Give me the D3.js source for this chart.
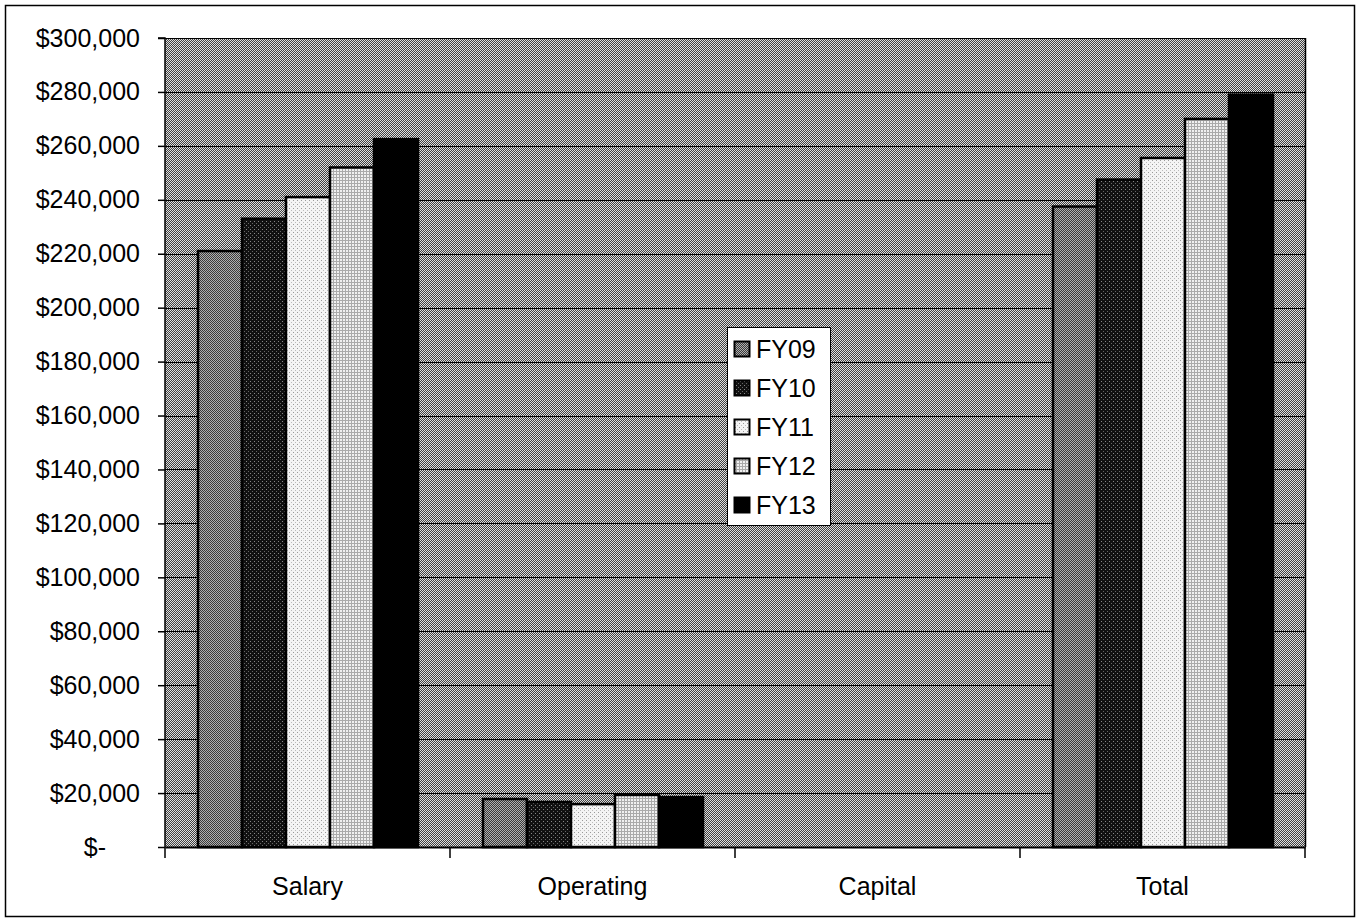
<!DOCTYPE html>
<html><head><meta charset="utf-8">
<script src="https://cdn.jsdelivr.net/npm/d3@7"></script>
<style>body{margin:0;background:#fff;} svg{display:block;} text{font-family:Arial,"Liberation Sans",sans-serif;}</style>
</head><body>
<svg id="chart" width="1359" height="922"></svg>
<script>
const categories = ["Salary", "Operating", "Capital", "Total"];
const seriesNames = ["FY09", "FY10", "FY11", "FY12", "FY13"];
const FY09 = [221000, 17800, 0, 237500];
const FY10 = [233000, 16700, 0, 247500];
const FY11 = [241000, 15900, 0, 255500];
const FY12 = [252000, 19300, 0, 270000];
const FY13 = [262500, 18500, 0, 279000];
const seriesValues = [FY09, FY10, FY11, FY12, FY13];
const yTicks = d3.range(0, 300001, 20000);

(function(){
const svg = d3.select("#chart");
const defs = svg.append("defs");

function checker(id, a, b, size) {
  const p = defs.append("pattern").attr("id", id).attr("patternUnits", "userSpaceOnUse")
    .attr("width", size * 2).attr("height", size * 2);
  p.append("rect").attr("width", size * 2).attr("height", size * 2).attr("fill", a);
  p.append("rect").attr("width", size).attr("height", size).attr("fill", b);
  p.append("rect").attr("x", size).attr("y", size).attr("width", size).attr("height", size).attr("fill", b);
}
checker("bg", "#404040", "#dedede", 1);
checker("p09", "#3a3a3a", "#b0b0b0", 1);
(function(){
  const p = defs.append("pattern").attr("id","p10").attr("patternUnits","userSpaceOnUse").attr("width",4).attr("height",4);
  p.append("rect").attr("width",4).attr("height",4).attr("fill","#111");
  p.append("rect").attr("x",1).attr("y",1).attr("width",1).attr("height",1).attr("fill","#888");
  p.append("rect").attr("x",3).attr("y",3).attr("width",1).attr("height",1).attr("fill","#666");
})();
(function(){
  const p = defs.append("pattern").attr("id","p11").attr("patternUnits","userSpaceOnUse").attr("width",4).attr("height",4);
  p.append("rect").attr("width",4).attr("height",4).attr("fill","#f4f4f4");
  p.append("rect").attr("x",0).attr("y",0).attr("width",1).attr("height",1).attr("fill","#999");
  p.append("rect").attr("x",2).attr("y",2).attr("width",1).attr("height",1).attr("fill","#bbb");
})();
(function(){
  const p = defs.append("pattern").attr("id","p12").attr("patternUnits","userSpaceOnUse").attr("width",3).attr("height",3);
  p.append("rect").attr("width",3).attr("height",3).attr("fill","#f0f0f0");
  p.append("rect").attr("x",0).attr("y",0).attr("width",3).attr("height",1).attr("fill","#aaa");
  p.append("rect").attr("x",0).attr("y",0).attr("width",1).attr("height",3).attr("fill","#aaa");
})();
const fills = ["url(#p09)", "url(#p10)", "url(#p11)", "url(#p12)", "#000"];

svg.append("rect").attr("x", 5.5).attr("y", 5.5).attr("width", 1349).attr("height", 911)
  .attr("fill", "#fff").attr("stroke", "#000").attr("stroke-width", 1.5);

const pLeft = 165, pRight = 1305, pTop = 38, pBottom = 847;
const x0 = d3.scaleBand().domain(categories).range([pLeft, pRight]).padding(0);
const x1 = d3.scaleBand().domain(seriesNames).range([33, 33 + 220]).padding(0);
const y = d3.scaleLinear().domain([0, 300000]).range([pBottom, pTop]);

svg.append("rect").attr("x", pLeft).attr("y", pTop).attr("width", pRight - pLeft).attr("height", pBottom - pTop)
  .attr("fill", "url(#bg)");

svg.append("g").selectAll("line").data(yTicks.filter(d => d > 0)).join("line")
  .attr("x1", pLeft).attr("x2", pRight)
  .attr("y1", d => Math.round(y(d)) + 0.5).attr("y2", d => Math.round(y(d)) + 0.5)
  .attr("stroke", "#000").attr("stroke-width", 1);
svg.append("line").attr("x1", pRight + 0.5).attr("x2", pRight + 0.5).attr("y1", pTop).attr("y2", pBottom)
  .attr("stroke", "#000").attr("stroke-width", 1.5);

const groups = svg.append("g").selectAll("g").data(categories).join("g")
  .attr("transform", c => `translate(${x0(c)},0)`);
groups.selectAll("rect").data((c, ci) => seriesNames.map((s, si) => ({s, si, v: seriesValues[si][ci]})).filter(d => d.v > 0))
  .join("rect")
  .attr("x", d => x1(d.s))
  .attr("y", d => y(d.v))
  .attr("width", x1.bandwidth())
  .attr("height", d => y(0) - y(d.v))
  .attr("fill", d => fills[d.si])
  .attr("stroke", "#000").attr("stroke-width", 2.5);

const yAxis = d3.axisLeft(y).tickValues(yTicks).tickSize(7).tickPadding(18)
  .tickFormat(d => d === 0 ? "$-" : "$" + d3.format(",")(d));
const gy = svg.append("g").attr("transform", `translate(${pLeft},0)`).call(yAxis);
gy.select(".domain").attr("stroke", "#000").attr("stroke-width", 1.5).attr("d", `M-7,${pTop}H0V${pBottom}`);
gy.selectAll(".tick line").attr("stroke", "#000").attr("stroke-width", 1.5);
gy.selectAll(".tick text").attr("font-size", 25).attr("fill", "#000")
  .attr("font-family", "Arial, 'Liberation Sans', sans-serif");
gy.selectAll(".tick text").filter(d => d === 0).attr("dx", -34);

const xAxis = d3.axisBottom(x0).tickSize(0).tickPadding(30);
const gx = svg.append("g").attr("transform", `translate(0,${pBottom})`).call(xAxis);
gx.select(".domain").attr("stroke", "#000").attr("stroke-width", 2);
gx.selectAll(".tick text").attr("font-size", 25).attr("fill", "#000")
  .attr("font-family", "Arial, 'Liberation Sans', sans-serif");
gx.selectAll(".sep").data(categories.map(c => x0(c)).concat([pRight])).join("line")
  .attr("class", "sep").attr("x1", d => d).attr("x2", d => d).attr("y1", 0).attr("y2", 11)
  .attr("stroke", "#000").attr("stroke-width", 1.5);

const lg = svg.append("g").attr("transform", "translate(727,327)");
lg.append("rect").attr("x", 0.5).attr("y", 0.5).attr("width", 103).attr("height", 198)
  .attr("fill", "#fff").attr("stroke", "#000").attr("stroke-width", 1);
const li = lg.selectAll(".li").data(seriesNames).join("g").attr("class", "li")
  .attr("transform", (d, i) => `translate(0,${22 + i * 39})`);
li.append("rect").attr("x", 7.5).attr("y", -7.5).attr("width", 15).attr("height", 15)
  .attr("fill", (d, i) => fills[i]).attr("stroke", "#000").attr("stroke-width", 2);
li.append("text").attr("x", 29).attr("y", 9).attr("font-size", 25).attr("fill", "#000").text(d => d);
})();
</script>
</body></html>
